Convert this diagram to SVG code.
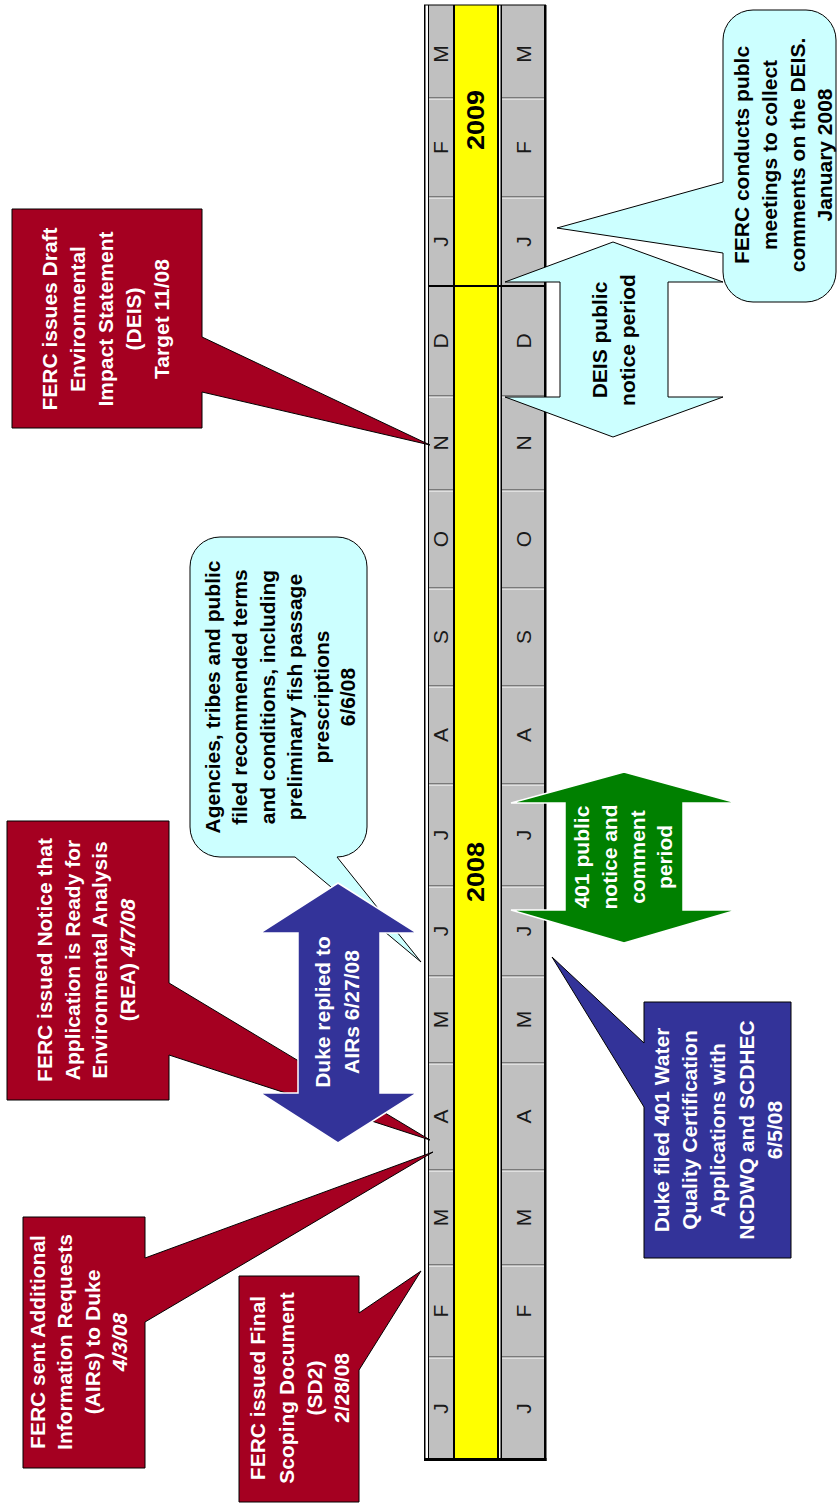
<svg xmlns="http://www.w3.org/2000/svg" width="838" height="1503" viewBox="0 0 838 1503">
<style>
.t{font-family:"Liberation Sans",Arial,sans-serif;text-anchor:middle}
.cal{font-weight:bold;font-size:21px}
.w{fill:#fff}.k{fill:#000}
.mo{font-size:21px;fill:#1a1a1a}
.yr{font-weight:bold;font-size:24px;fill:#000}
.red{fill:#A50021;stroke:#000;stroke-width:1}
.cy{fill:#CCFFFF;stroke:#000;stroke-width:1}
.bl{fill:#333399;stroke:#000;stroke-width:1}
.bd{stroke:#333;stroke-width:1}
.bw{stroke:#fff;stroke-width:1}
</style>
<rect width="838" height="1503" fill="#fff"/>
<g id="timeline">
  <rect x="424" y="5" width="122" height="1455" fill="#fff"/>
  <rect x="429" y="5" width="25" height="1455" fill="#C0C0C0"/>
  <rect x="455" y="5" width="42" height="1455" fill="#FFFF00"/>
  <rect x="502" y="5" width="42" height="1455" fill="#C0C0C0"/>
  <g fill="#000">
    <rect x="424" y="5" width="1.5" height="1456"/>
    <rect x="428" y="5" width="1" height="1455"/>
    <rect x="453" y="5" width="2" height="1455"/>
    <rect x="497" y="5" width="2" height="1455"/>
    <rect x="500.5" y="5" width="1.5" height="1455"/>
    <rect x="544" y="5" width="2.5" height="1456"/>
    <rect x="424" y="4.5" width="122" height="1"/>
    <rect x="424" y="1458" width="122.5" height="3"/>
    <rect x="428" y="285" width="118" height="2"/>
  </g>
  <g id="month-lines">
    <path class="bd" d="M429 98H453M502 98H544M429 197H453M502 197H544M429 396H453M502 396H544M429 490H453M502 490H544M429 588H453M502 588H544M429 686H453M502 686H544M429 784H453M502 784H544M429 886H453M502 886H544M429 976H453M502 976H544M429 1063H453M502 1063H544M429 1170H453M502 1170H544M429 1265H453M502 1265H544M429 1357H453M502 1357H544"/>
    <path class="bw" d="M429 99H453M502 99H544M429 198H453M502 198H544M429 397H453M502 397H544M429 491H453M502 491H544M429 589H453M502 589H544M429 687H453M502 687H544M429 785H453M502 785H544M429 887H453M502 887H544M429 977H453M502 977H544M429 1064H453M502 1064H544M429 1171H453M502 1171H544M429 1266H453M502 1266H544M429 1358H453M502 1358H544"/>
  </g>
  <g transform="rotate(-90)" class="t mo">
    <text x="-54" y="448">M</text><text x="-54" y="531">M</text>
    <text x="-147.5" y="448">F</text><text x="-147.5" y="531">F</text>
    <text x="-241.5" y="448">J</text><text x="-241.5" y="531">J</text>
    <text x="-341" y="448">D</text><text x="-341" y="531">D</text>
    <text x="-443" y="448">N</text><text x="-443" y="531">N</text>
    <text x="-539" y="448">O</text><text x="-539" y="531">O</text>
    <text x="-637" y="448">S</text><text x="-637" y="531">S</text>
    <text x="-735" y="448">A</text><text x="-735" y="531">A</text>
    <text x="-835" y="448">J</text><text x="-835" y="531">J</text>
    <text x="-931" y="448">J</text><text x="-931" y="531">J</text>
    <text x="-1019.5" y="448">M</text><text x="-1019.5" y="531">M</text>
    <text x="-1116.5" y="448">A</text><text x="-1116.5" y="531">A</text>
    <text x="-1217.5" y="448">M</text><text x="-1217.5" y="531">M</text>
    <text x="-1311" y="448">F</text><text x="-1311" y="531">F</text>
    <text x="-1408.5" y="448">J</text><text x="-1408.5" y="531">J</text>
  </g>
  <g transform="rotate(-90)" class="t yr">
    <text x="-120" y="483.5" textLength="60" lengthAdjust="spacingAndGlyphs">2009</text>
    <text x="-872" y="483.5" textLength="60" lengthAdjust="spacingAndGlyphs">2008</text>
  </g>
</g>
<g id="connectors"></g>
<g id="node-airs">
  <path class="red" d="M23 1217H145V1258L433 1152L145 1322V1468H23Z"/>
  <text class="t cal w" transform="rotate(-90)"><tspan x="-1342" y="44.5">FERC sent Additional</tspan><tspan x="-1342" y="72">Information Requests</tspan><tspan x="-1342" y="99.5">(AIRs) to Duke</tspan><tspan x="-1342" y="127" font-style="italic">4/3/08</tspan></text>
</g>
<g id="node-sd2">
  <path class="red" d="M239 1276H359V1313L421 1271L359 1370V1502H239Z"/>
  <text class="t cal w" transform="rotate(-90)"><tspan x="-1388" y="265">FERC issued Final</tspan><tspan x="-1388" y="294">Scoping Document</tspan><tspan x="-1388" y="322">(SD2)</tspan><tspan x="-1388" y="349">2/28/08</tspan></text>
</g>
<g id="node-rea">
  <path class="red" d="M7 821H169V983L430 1140L169 1055V1100H7Z"/>
  <text class="t cal w" transform="rotate(-90)"><tspan x="-960" y="52">FERC issued Notice that</tspan><tspan x="-960" y="79.5">Application is Ready for</tspan><tspan x="-960" y="107">Environmental Analysis</tspan><tspan x="-960" y="135">(REA) <tspan font-style="italic">4/7/08</tspan></tspan></text>
</g>
<g id="node-deis">
  <path class="red" d="M12 209H202V337L430 445L202 392V428H12Z"/>
  <text class="t cal w" transform="rotate(-90)"><tspan x="-319" y="57">FERC issues Draft</tspan><tspan x="-319" y="85">Environmental</tspan><tspan x="-319" y="113">Impact Statement</tspan><tspan x="-319" y="141">(DEIS)</tspan><tspan x="-319" y="169">Target 11/08</tspan></text>
</g>
<g id="node-agencies">
  <path class="cy" d="M220 537H337A30 30 0 0 1 367 567V827A30 30 0 0 1 337 857L421 962L295 857H220A30 30 0 0 1 190 827V567A30 30 0 0 1 220 537Z"/>
  <text class="t cal k" transform="rotate(-90)"><tspan x="-697" y="220">Agencies, tribes and public</tspan><tspan x="-697" y="247">filed recommended terms</tspan><tspan x="-697" y="275">and conditions, including</tspan><tspan x="-697" y="302">preliminary fish passage</tspan><tspan x="-697" y="329">prescriptions</tspan><tspan x="-697" y="355">6/6/08</tspan></text>
</g>
<g id="node-duke-replied">
  <polygon points="338,883 417,933 380,933 380,1093 417,1093 338,1143 260,1093 298,1093 298,933 260,933" fill="#333399" stroke="#fff" stroke-width="1.5"/>
  <text class="t cal w" transform="rotate(-90)"><tspan x="-1012" y="330">Duke replied to</tspan><tspan x="-1012" y="359">AIRs 6/27/08</tspan></text>
</g>
<g id="node-401-period">
  <polygon points="624,772 737,803 683,803 683,910 737,910 624,943 511,910 565,910 565,803 511,803" fill="#008000" stroke="#fff" stroke-width="1.5"/>
  <text class="t cal w" transform="rotate(-90)"><tspan x="-857" y="589">401 public</tspan><tspan x="-857" y="617">notice and</tspan><tspan x="-857" y="645">comment</tspan><tspan x="-857" y="672">period</tspan></text>
</g>
<g id="node-duke-401">
  <path class="bl" d="M644 1002H791V1258H644V1107L552 957L644 1043Z"/>
  <text class="t cal w" transform="rotate(-90)"><tspan x="-1130" y="669">Duke filed 401 Water</tspan><tspan x="-1130" y="697">Quality Certification</tspan><tspan x="-1130" y="725">Applications with</tspan><tspan x="-1130" y="754">NCDWQ and SCDHEC</tspan><tspan x="-1130" y="782">6/5/08</tspan></text>
</g>
<g id="node-deis-period">
  <polygon class="cy" points="613,242 723,282 668,282 668,397 723,397 613,437 505,397 560,397 560,282 505,282"/>
  <text class="t cal k" transform="rotate(-90)"><tspan x="-340" y="607">DEIS public</tspan><tspan x="-340" y="635">notice period</tspan></text>
</g>
<g id="node-meetings">
  <path class="cy" d="M753 10H806A30 30 0 0 1 836 40V272A30 30 0 0 1 806 302H753A30 30 0 0 1 723 272V253L557 228L723 182V40A30 30 0 0 1 753 10Z"/>
  <text class="t cal k" transform="rotate(-90)"><tspan x="-155" y="749">FERC conducts publc</tspan><tspan x="-155" y="777">meetings to collect</tspan><tspan x="-155" y="805">comments on the DEIS.</tspan><tspan x="-155" y="832">January 2008</tspan></text>
</g>
</svg>
